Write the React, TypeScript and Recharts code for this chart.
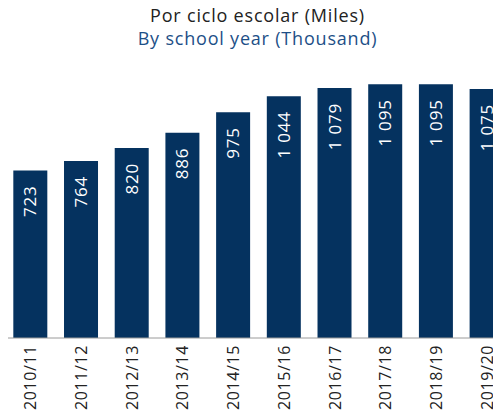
import { BarChart, Bar, XAxis, YAxis, LabelList } from "recharts";

const years = [
  "2010/11",
  "2011/12",
  "2012/13",
  "2013/14",
  "2014/15",
  "2015/16",
  "2016/17",
  "2017/18",
  "2018/19",
  "2019/20",
];
const students = [723, 764, 820, 886, 975, 1044, 1079, 1095, 1095, 1075];

const data = years.map((year, i) => ({ year, value: students[i] }));

const FONT = "'Open Sans', sans-serif";
const NAVY = "#05325f";

const fmt = (v: number) =>
  v >= 1000 ? `${Math.floor(v / 1000)} ${String(v % 1000).padStart(3, "0")}` : String(v);

const YearTick = (props: any) => {
  const { x, y, payload } = props;
  return (
    <text
      x={0}
      y={0}
      transform={`translate(${x + 6},${y - 1}) rotate(-90)`}
      textAnchor="end"
      fontSize={16}
      letterSpacing={0.6}
      fontFamily={FONT}
      fill="#222"
    >
      {payload.value}
    </text>
  );
};

const ValueLabel = (props: any) => {
  const { x, y, width, value } = props;
  const cx = x + width / 2 + 6;
  const cy = y + 15;
  return (
    <text
      x={0}
      y={0}
      transform={`translate(${cx},${cy}) rotate(-90)`}
      textAnchor="end"
      fontSize={17}
      letterSpacing={0.8}
      fontFamily={FONT}
      fill="#fff"
    >
      {fmt(value)}
    </text>
  );
};

export default function App() {
  return (
    <div
      style={{
        position: "relative",
        margin: "-8px 0 0 -8px",
        width: 501,
        height: 417,
        overflow: "hidden",
        background: "#fff",
      }}
    >
      <div
        style={{
          position: "absolute",
          left: 0,
          top: 4,
          width: 515,
          textAlign: "center",
          fontFamily: FONT,
          fontSize: 18,
          letterSpacing: 0.8,
          lineHeight: "23px",
        }}
      >
        <div style={{ color: "#222" }}>Por ciclo escolar (Miles)</div>
        <div style={{ color: "#1d4f87" }}>By school year (Thousand)</div>
      </div>
      <div style={{ position: "absolute", left: 0, top: 0 }}>
        <BarChart
          width={515}
          height={417}
          data={data}
          margin={{ top: 60, right: 3, bottom: 0, left: 5 }}
          barCategoryGap="16.4%"
        >
          <XAxis
            dataKey="year"
            height={79}
            interval={0}
            tickLine={false}
            axisLine={{ stroke: "#9a9a9a", strokeWidth: 1 }}
            tick={<YearTick />}
          />
          <YAxis hide domain={[0, 1200]} />
          <Bar dataKey="value" fill={NAVY} isAnimationActive={false}>
            <LabelList dataKey="value" content={<ValueLabel />} />
          </Bar>
        </BarChart>
      </div>
    </div>
  );
}
